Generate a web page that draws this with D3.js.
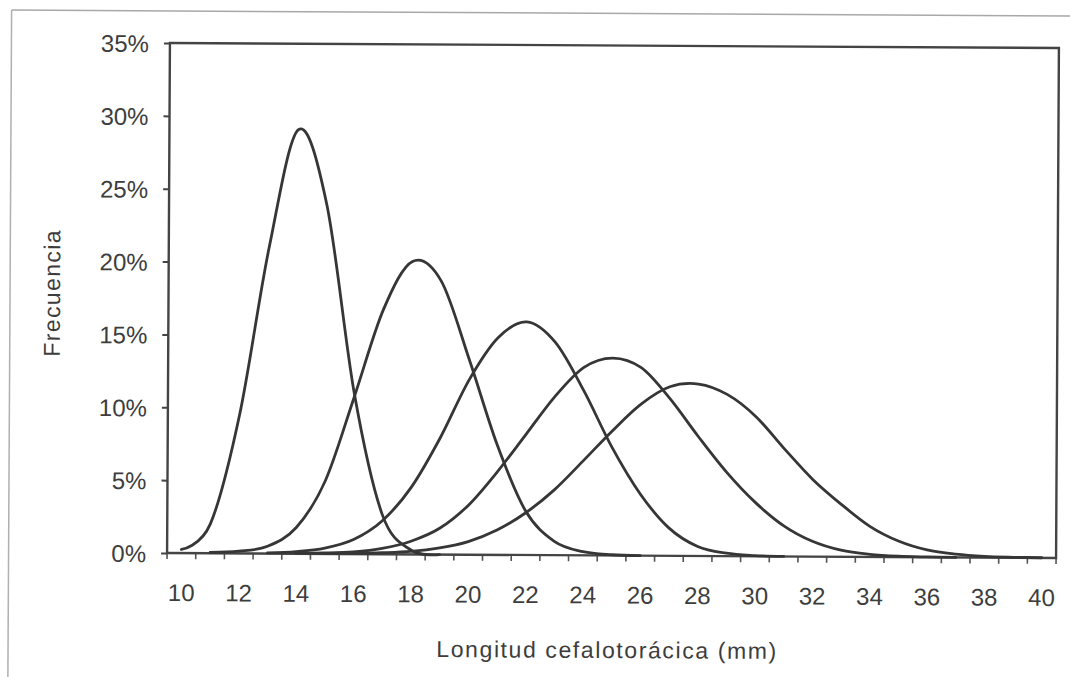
<!DOCTYPE html>
<html>
<head>
<meta charset="utf-8">
<script src="https://cdn.jsdelivr.net/npm/d3@7"></script>
<style>
  html, body { margin: 0; padding: 0; background: #fff; }
  svg { display: block; }
  text { font-family: "Liberation Sans", Arial, Helvetica, sans-serif; fill: #3d3d3d; }
</style>
</head>
<body>
<svg id="chart" width="1070" height="677"></svg>
<script>
// ---- data (frequencies in %) ----
const categories = [10,11,12,13,14,15,16,17,18,19,20,21,22,23,24,25,26,27,28,29,30,31,32,33,34,35,36,37,38,39,40];
const xTickLabels = [10,12,14,16,18,20,22,24,26,28,30,32,34,36,38,40];
const yTickValues = [0,5,10,15,20,25,30,35];
const xTitle = "Longitud cefalotorácica (mm)";
const yTitle = "Frecuencia";

const serie1 = [0.25,2.0,9.5,21.0,29.1,24.0,11.0,2.7,0.3,0.0,
  null,null,null,null,null,null,null,null,null,null,null,null,null,null,null,null,null,null,null,null,null];
const serie2 = [null,0.05,0.15,0.5,1.8,5.0,10.8,16.8,20.1,18.8,13.4,7.5,3.0,0.95,0.25,0.05,0.0,
  null,null,null,null,null,null,null,null,null,null,null,null,null,null];
const serie3 = [null,null,null,0.05,0.15,0.4,1.0,2.3,4.6,8.0,12.0,14.9,16.0,14.6,11.3,7.4,4.2,1.9,0.65,0.2,0.05,0.0,
  null,null,null,null,null,null,null,null,null];
const serie4 = [null,null,null,null,0.03,0.06,0.15,0.4,0.9,1.8,3.4,5.7,8.3,10.9,12.9,13.55,12.9,10.8,8.2,5.75,3.7,2.1,1.05,0.45,0.18,0.06,0.02,0.0,
  null,null,null];
const serie5 = [null,null,null,null,null,0.03,0.05,0.1,0.2,0.45,0.9,1.7,2.9,4.5,6.5,8.55,10.4,11.6,11.8,11.1,9.6,7.4,5.3,3.6,2.1,1.1,0.5,0.22,0.08,0.03,0.01];
const seriesList = [serie1, serie2, serie3, serie4, serie5];

// ---- layout ----
const plot = {left: 168.5, right: 1057.5, top: 45.5, bottom: 555.5};
const svg = d3.select("#chart");
svg.append("rect").attr("width", 1070).attr("height", 677).attr("fill", "#fff");

// whole scanned page is slightly rotated
const root = svg.append("g").attr("transform", "rotate(0.32,613,300)");

// outer (page) frame, light
root.append("line").attr("x1", 10).attr("x2", 1080).attr("y1", 13.4).attr("y2", 13.4)
  .attr("stroke", "#a8a8a8").attr("stroke-width", 1.5);
root.append("line").attr("x1", 10).attr("x2", 10).attr("y1", 13.4).attr("y2", 690)
  .attr("stroke", "#b0b0b0").attr("stroke-width", 1.5);

const x = d3.scaleBand().domain(categories).range([plot.left, plot.right]).paddingInner(0).paddingOuter(0);
const xc = c => x(c) + x.bandwidth() / 2;
const y = d3.scaleLinear().domain([0, 35]).range([plot.bottom, plot.top]);

// y axis
const yAxis = d3.axisLeft(y).tickValues(yTickValues).tickFormat(d => d + "%").tickSize(6).tickPadding(15);
const gy = root.append("g").attr("transform", `translate(${plot.left},0)`).call(yAxis);
gy.select(".domain").remove();
gy.selectAll(".tick line").attr("stroke", "#444").attr("stroke-width", 2);
gy.selectAll(".tick text").attr("font-size", 24).attr("fill", "#3d3d3d").attr("dy", "0.36em")
  .attr("font-family", '"Liberation Sans", Arial, sans-serif');

// x axis: labels at category centres, ticks at category boundaries
const xAxis = d3.axisBottom(x).tickValues(xTickLabels).tickSize(0);
const gx = root.append("g").attr("transform", `translate(0,${plot.bottom})`).call(xAxis);
gx.select(".domain").remove();
gx.selectAll(".tick text").attr("font-size", 24).attr("fill", "#3d3d3d").attr("y", 48).attr("dy", 0)
  .attr("font-family", '"Liberation Sans", Arial, sans-serif');
const boundaries = categories.map(c => x(c)).concat([x(categories[categories.length - 1]) + x.bandwidth()]);
root.append("g").selectAll("line").data(boundaries).join("line")
  .attr("x1", d => d).attr("x2", d => d)
  .attr("y1", plot.bottom).attr("y2", plot.bottom + 6)
  .attr("stroke", "#555").attr("stroke-width", 1.6);

// plot frame
root.append("rect")
  .attr("x", plot.left).attr("y", plot.top)
  .attr("width", plot.right - plot.left).attr("height", plot.bottom - plot.top)
  .attr("fill", "none").attr("stroke", "#444").attr("stroke-width", 2.4);

// curves
const line = d3.line()
  .defined(d => d.v !== null)
  .x(d => xc(d.c))
  .y(d => y(d.v))
  .curve(d3.curveCatmullRom.alpha(0));
root.append("g").selectAll("path").data(seriesList).join("path")
  .attr("d", s => line(categories.map((c, i) => ({c: c, v: s[i]})).filter(d => d.v !== null)))
  .attr("fill", "none").attr("stroke", "#363636").attr("stroke-width", 2.8)
  .attr("stroke-linejoin", "round").attr("stroke-linecap", "round");

// axis titles
root.append("text").attr("x", 609).attr("y", 658).attr("text-anchor", "middle")
  .attr("font-size", 23).attr("letter-spacing", 1.6).text(xTitle);
root.append("text").attr("transform", "translate(60,296) rotate(-90)").attr("text-anchor", "middle")
  .attr("font-size", 23).attr("letter-spacing", 1.4).text(yTitle);
</script>
</body>
</html>
